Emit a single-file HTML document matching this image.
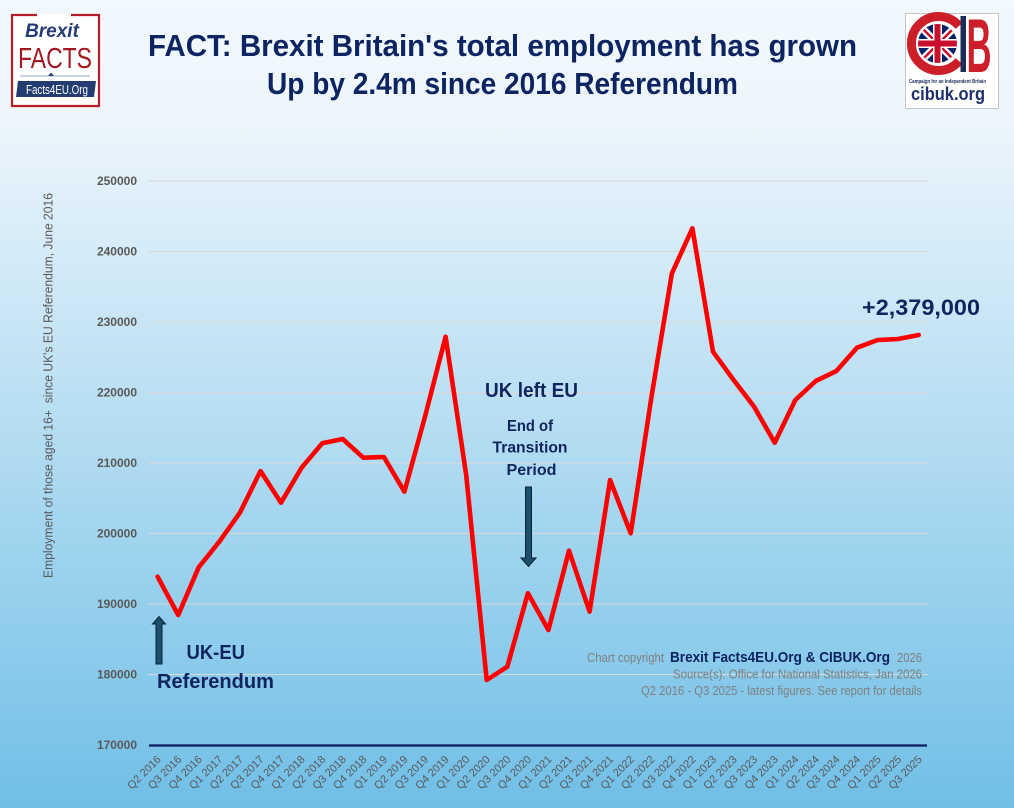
<!DOCTYPE html>
<html><head><meta charset="utf-8"><style>
html,body{margin:0;padding:0;}
body{width:1014px;height:808px;overflow:hidden;}
svg{display:block;font-family:"Liberation Sans",sans-serif;}
</style></head><body>
<svg width="1014" height="808" viewBox="0 0 1014 808" xmlns="http://www.w3.org/2000/svg">
<defs>
<linearGradient id="bg" x1="0" y1="0" x2="0" y2="1">
<stop offset="0" stop-color="#f1f8fe"/>
<stop offset="0.14" stop-color="#eef6fc"/>
<stop offset="1" stop-color="#70bfe6"/>
</linearGradient>
<clipPath id="cc"><circle cx="937.5" cy="43.5" r="19.5"/></clipPath>
</defs>
<rect x="0" y="0" width="1014" height="808" fill="url(#bg)"/>

<!-- Title -->
<text x="148" y="56" font-size="31" font-weight="bold" fill="#0c2461" textLength="709" lengthAdjust="spacingAndGlyphs">FACT: Brexit Britain's total employment has grown</text>
<text x="267" y="94" font-size="31" font-weight="bold" fill="#0c2461" textLength="471" lengthAdjust="spacingAndGlyphs">Up by 2.4m since 2016 Referendum</text>

<!-- Left logo -->
<rect x="11" y="14" width="89" height="93" fill="#ffffff"/>
<path d="M37,15 H12 V106 H99 V15 H71" fill="none" stroke="#b51e24" stroke-width="2.2"/>
<text x="52" y="37" font-size="19" font-weight="bold" font-style="italic" fill="#233b76" text-anchor="middle">Brexit</text>
<text x="18" y="68" font-size="29" fill="#a31820" textLength="74" lengthAdjust="spacingAndGlyphs">FACTS</text>
<line x1="20" y1="76" x2="90" y2="76" stroke="#9aabcc" stroke-width="1"/>
<polygon points="48,76 54,76 51,72.5" fill="#233b76"/>
<polygon points="18,81 96,81 94,97 16,97" fill="#233d73"/>
<text x="26" y="94" font-size="12.5" fill="#ffffff" textLength="62" lengthAdjust="spacingAndGlyphs">Facts4EU.Org</text>

<!-- Right logo -->
<rect x="905.5" y="13.5" width="93" height="95" fill="#ffffff" stroke="#c4c4c4" stroke-width="1"/>
<path d="M959,26 A27,27 0 1 0 959,61" fill="none" stroke="#cc1f2a" stroke-width="9"/>
<g clip-path="url(#cc)">
<rect x="916" y="22" width="44" height="44" fill="#012169"/>
<line x1="916" y1="22" x2="960" y2="66" stroke="#fff" stroke-width="7"/>
<line x1="960" y1="22" x2="916" y2="66" stroke="#fff" stroke-width="7"/>
<line x1="916" y1="22" x2="960" y2="66" stroke="#c8102e" stroke-width="2.5"/>
<line x1="960" y1="22" x2="916" y2="66" stroke="#c8102e" stroke-width="2.5"/>
<rect x="916" y="39" width="44" height="9" fill="#fff"/>
<rect x="933" y="22" width="9" height="44" fill="#fff"/>
<rect x="916" y="40.5" width="44" height="6" fill="#c8102e"/>
<rect x="934.5" y="22" width="6" height="44" fill="#c8102e"/>
</g>
<rect x="960.5" y="16" width="5.5" height="56" fill="#1c2b5a"/>
<text x="966.5" y="72" font-size="76" font-weight="bold" fill="#cc1f2a" textLength="25" lengthAdjust="spacingAndGlyphs">B</text>
<text x="909" y="83" font-size="5.5" font-weight="bold" fill="#1c2b5a" textLength="77" lengthAdjust="spacingAndGlyphs">Campaign for an Independent Britain</text>
<text x="911" y="100" font-size="18" font-weight="bold" fill="#1e2f6b" textLength="74" lengthAdjust="spacingAndGlyphs">cibuk.org</text>

<!-- Gridlines -->
<g stroke="#d9d9d9" stroke-width="1">
<line x1="148" y1="181" x2="928" y2="181"/>
<line x1="148" y1="251.5" x2="928" y2="251.5"/>
<line x1="148" y1="322" x2="928" y2="322"/>
<line x1="148" y1="392.5" x2="928" y2="392.5"/>
<line x1="148" y1="463" x2="928" y2="463"/>
<line x1="148" y1="533.5" x2="928" y2="533.5"/>
<line x1="148" y1="604" x2="928" y2="604"/>
<line x1="148" y1="674.5" x2="928" y2="674.5"/>
</g>
<line x1="149" y1="745.5" x2="927" y2="745.5" stroke="#0a1f5c" stroke-width="2.2"/>

<!-- Y labels -->
<g font-size="12" font-weight="bold" fill="#595959" text-anchor="end">
<text x="137" y="185">250000</text>
<text x="137" y="255.5">240000</text>
<text x="137" y="326">230000</text>
<text x="137" y="396.5">220000</text>
<text x="137" y="467">210000</text>
<text x="137" y="537.5">200000</text>
<text x="137" y="608">190000</text>
<text x="137" y="678.5">180000</text>
<text x="137" y="749">170000</text>
</g>

<!-- Y axis title -->
<text transform="translate(52.5,385.5) rotate(-90)" font-size="12.5" fill="#595959" text-anchor="middle" textLength="385" lengthAdjust="spacingAndGlyphs">Employment of those aged 16+&#160; since UK's EU Referendum, June 2016</text>

<!-- X labels -->
<g font-size="11" fill="#595959" text-anchor="end">
<text transform="translate(161.6,760) rotate(-45)">Q2 2016</text>
<text transform="translate(182.2,760) rotate(-45)">Q3 2016</text>
<text transform="translate(202.7,760) rotate(-45)">Q4 2016</text>
<text transform="translate(223.3,760) rotate(-45)">Q1 2017</text>
<text transform="translate(243.9,760) rotate(-45)">Q2 2017</text>
<text transform="translate(264.5,760) rotate(-45)">Q3 2017</text>
<text transform="translate(285.0,760) rotate(-45)">Q4 2017</text>
<text transform="translate(305.6,760) rotate(-45)">Q1 2018</text>
<text transform="translate(326.2,760) rotate(-45)">Q2 2018</text>
<text transform="translate(346.7,760) rotate(-45)">Q3 2018</text>
<text transform="translate(367.3,760) rotate(-45)">Q4 2018</text>
<text transform="translate(387.9,760) rotate(-45)">Q1 2019</text>
<text transform="translate(408.4,760) rotate(-45)">Q2 2019</text>
<text transform="translate(429.0,760) rotate(-45)">Q3 2019</text>
<text transform="translate(449.6,760) rotate(-45)">Q4 2019</text>
<text transform="translate(470.2,760) rotate(-45)">Q1 2020</text>
<text transform="translate(490.7,760) rotate(-45)">Q2 2020</text>
<text transform="translate(511.3,760) rotate(-45)">Q3 2020</text>
<text transform="translate(531.9,760) rotate(-45)">Q4 2020</text>
<text transform="translate(552.4,760) rotate(-45)">Q1 2021</text>
<text transform="translate(573.0,760) rotate(-45)">Q2 2021</text>
<text transform="translate(593.6,760) rotate(-45)">Q3 2021</text>
<text transform="translate(614.1,760) rotate(-45)">Q4 2021</text>
<text transform="translate(634.7,760) rotate(-45)">Q1 2022</text>
<text transform="translate(655.3,760) rotate(-45)">Q2 2022</text>
<text transform="translate(675.9,760) rotate(-45)">Q3 2022</text>
<text transform="translate(696.4,760) rotate(-45)">Q4 2022</text>
<text transform="translate(717.0,760) rotate(-45)">Q1 2023</text>
<text transform="translate(737.6,760) rotate(-45)">Q2 2023</text>
<text transform="translate(758.1,760) rotate(-45)">Q3 2023</text>
<text transform="translate(778.7,760) rotate(-45)">Q4 2023</text>
<text transform="translate(799.3,760) rotate(-45)">Q1 2024</text>
<text transform="translate(819.8,760) rotate(-45)">Q2 2024</text>
<text transform="translate(840.4,760) rotate(-45)">Q3 2024</text>
<text transform="translate(861.0,760) rotate(-45)">Q4 2024</text>
<text transform="translate(881.6,760) rotate(-45)">Q1 2025</text>
<text transform="translate(902.1,760) rotate(-45)">Q2 2025</text>
<text transform="translate(922.7,760) rotate(-45)">Q3 2025</text>
</g>

<!-- Annotations -->
<g fill="#10245e" font-weight="bold">
<text x="485" y="397" font-size="20" textLength="93" lengthAdjust="spacingAndGlyphs">UK left EU</text>
<text x="507" y="431" font-size="16" textLength="46" lengthAdjust="spacingAndGlyphs">End of</text>
<text x="492.5" y="452.5" font-size="16" textLength="75" lengthAdjust="spacingAndGlyphs">Transition</text>
<text x="506.5" y="475" font-size="16" textLength="50" lengthAdjust="spacingAndGlyphs">Period</text>
<text x="186.5" y="659" font-size="20" textLength="58.5" lengthAdjust="spacingAndGlyphs">UK-EU</text>
<text x="157" y="688" font-size="20" textLength="117" lengthAdjust="spacingAndGlyphs">Referendum</text>
<text x="862" y="315" font-size="22" textLength="118" lengthAdjust="spacingAndGlyphs">+2,379,000</text>
</g>

<!-- Arrows -->
<path d="M525.5,487 H531.5 V558 H536 L528.5,566.5 L521,558 H525.5 Z" fill="#1b4f6e" stroke="#0a2233" stroke-width="1"/>
<path d="M156,664 H162 V624 H165.5 L159,616.5 L152.5,624 H156 Z" fill="#1b4f6e" stroke="#0a2233" stroke-width="1"/>

<!-- Copyright -->
<text x="587" y="662" font-size="12.5" fill="#7f7f7f" textLength="77" lengthAdjust="spacingAndGlyphs">Chart copyright</text>
<text x="670" y="662" font-size="15" font-weight="bold" fill="#0c2461" textLength="220" lengthAdjust="spacingAndGlyphs">Brexit Facts4EU.Org &amp; CIBUK.Org</text>
<text x="897" y="662" font-size="12.5" fill="#7f7f7f" textLength="25" lengthAdjust="spacingAndGlyphs">2026</text>
<text x="673" y="678.5" font-size="12.5" fill="#7f7f7f" textLength="249" lengthAdjust="spacingAndGlyphs">Source(s): Office for National Statistics, Jan 2026</text>
<text x="641" y="695" font-size="12.5" fill="#7f7f7f" textLength="281" lengthAdjust="spacingAndGlyphs">Q2 2016 - Q3 2025 - latest figures. See report for details</text>

<!-- Data line -->
<polyline fill="none" stroke="#ff0000" stroke-width="4.6" stroke-linejoin="round" stroke-linecap="round" points="
157.6,576.7 178.2,615 198.7,567.3 219.3,541.7 239.9,512.7 260.5,471 281.0,502.7 301.6,467.7 322.2,443.3 342.7,439 363.3,457.7 383.9,457 404.4,491.7 425.0,416.7 445.6,336.7 466.2,475 486.7,680 507.3,666.7 527.9,593.3 548.4,630 569.0,550.7 589.6,611.7 610.1,480 630.7,533.3 651.3,398 671.9,273.3 692.4,228.3 713.0,351.7 733.6,380 754.1,406.7 774.7,442.7 795.3,400 815.8,381 836.4,371 857.0,347.7 877.6,340 898.1,339 918.7,335"/>
</svg>
</body></html>
